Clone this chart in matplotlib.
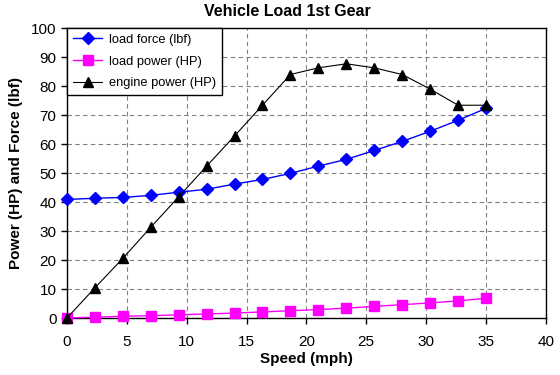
import numpy as np
import matplotlib.pyplot as plt

plt.rcParams['font.family'] = ['Liberation Sans', 'DejaVu Sans']

speed = [0, 2.33, 4.67, 7, 9.33, 11.67, 14, 16.33, 18.67, 21, 23.33, 25.67, 28, 30.33, 32.67, 35]
load_force = [40.9, 41.3, 41.6, 42.3, 43.4, 44.4, 46.2, 47.8, 49.9, 52.4, 54.7, 57.8, 60.9, 64.4, 68.2, 72.3]
load_power = [0, 0.3, 0.6, 0.8, 1.1, 1.4, 1.7, 2.1, 2.5, 2.9, 3.4, 4.0, 4.6, 5.2, 5.9, 6.8]
engine_power = [0, 10.4, 20.6, 31.3, 41.8, 52.4, 62.8, 73.4, 84.0, 86.3, 87.7, 86.3, 84.0, 79.0, 73.4, 73.4]

fig = plt.figure(figsize=(5.6, 3.75), dpi=100)
ax = fig.add_axes([0.1196, 0.152, 0.855, 0.773])

ax.plot(speed, load_force, color='#0000ff', lw=1, marker='D', ms=6, label='load force (lbf)', clip_on=False, zorder=3)
ax.plot(speed, load_power, color='#ff00ff', lw=1, marker='s', ms=7, label='load power (HP)', clip_on=False, zorder=3)
ax.plot(speed, engine_power, color='black', lw=0.8, marker='^', ms=7, label='engine power (HP)', clip_on=False, zorder=3)

ax.set_xlim(0, 40)
ax.set_ylim(0, 100)
ax.set_xticks(np.arange(0, 41, 5))
ax.set_yticks(np.arange(0, 101, 10))
ax.grid(True, color='#808080', ls=(0, (4, 3)), lw=0.8)
ax.set_axisbelow(True)
for s in ax.spines.values():
    s.set_color('black')
    s.set_linewidth(1)
ax.tick_params(labelsize=11, length=4, width=1, direction='out')
ax.tick_params(axis='x', pad=8.5)

ax.set_title('Vehicle Load 1st Gear', fontsize=11.5, fontweight='bold', pad=9, x=0.46)
ax.set_xlabel('Speed (mph)', fontsize=11, fontweight='bold', labelpad=2)
ax.set_ylabel('Power (HP) and Force (lbf)', fontsize=11, fontweight='bold', labelpad=6)

leg = ax.legend(loc='upper left', fontsize=9.3, frameon=True, fancybox=False,
                edgecolor='black', framealpha=1, borderaxespad=0, handlelength=2.3,
                handletextpad=0.5, labelspacing=0.75, borderpad=0.45)
leg.get_frame().set_linewidth(1)

fig.savefig('out.png', dpi=100)
